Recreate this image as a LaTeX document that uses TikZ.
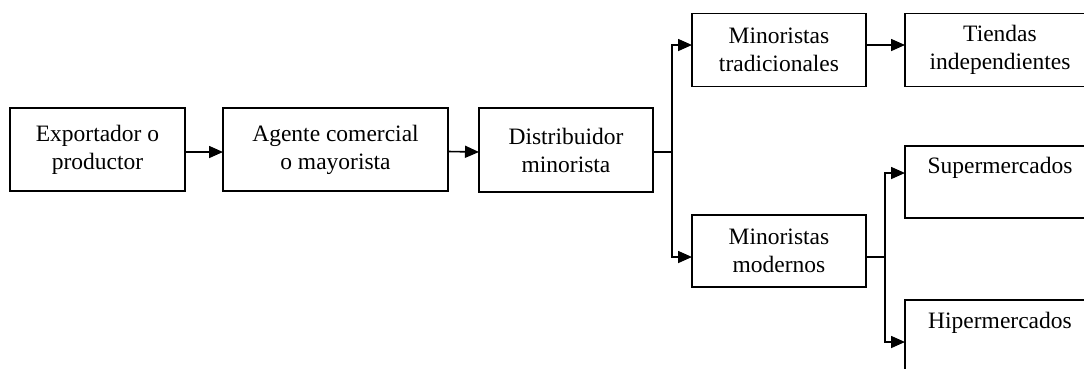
\documentclass[tikz,border=0pt]{standalone}
\usepackage{fontspec}
\setmainfont{Liberation Serif}
\usetikzlibrary{arrows.meta}
\begin{document}
\begin{tikzpicture}[x=1pt,y=-1pt,
  txt/.style={font=\fontsize{23.5}{28}\selectfont, align=center},
  box/.style={txt, draw, line width=1.6pt, inner sep=0pt, outer sep=0pt},
  wire/.style={line width=1.6pt},
  link/.style={wire, -{Triangle[length=14pt,width=12pt]}}]
\useasboundingbox (0,0) rectangle (1084,368);
\clip (0,0) rectangle (1084,368);

% main chain
\node[box, minimum width=175pt, minimum height=83pt] (b1) at (97.5,149.5) {Exportador o\\productor};
\node[box, minimum width=225pt, minimum height=83pt] (b2) at (335.5,149.5) {Agente comercial\\o mayorista};
\node[box, minimum width=174pt, minimum height=84pt] (b3) at (566,150) {Distribuidor\\minorista};

% retail branches
\node[box, minimum width=174pt, minimum height=73pt] (b4) at (779,50) {Minoristas\\tradicionales};
\node[box, minimum width=174pt, minimum height=72pt] (b7) at (779,251) {Minoristas\\modernos};

% store types
\node[box, minimum width=190pt, minimum height=73pt] (b5) at (1000,50) {Tiendas\\independientes};
\node[box, minimum width=190pt, minimum height=72pt,
  label={[txt, anchor=center, yshift=-22pt]north:Supermercados}] (sup) at (1000,182) {};
\node[box, minimum width=190pt, minimum height=72pt,
  label={[txt, anchor=center, yshift=-23pt]north:Hipermercados}] (hip) at (1000,336) {};

% connectors
\draw[link] ([yshift=-2.5pt]b1.east) -- ([yshift=-2.5pt]b2.west);
\draw[link] ([yshift=-2pt]b2.east) -- ([yshift=-2pt]b3.west);

\coordinate (j1) at (672,152);
\draw[wire] ([yshift=-2pt]b3.east) -- (j1);
\draw[link] (j1) |- ([yshift=5pt]b4.west);
\draw[link] (j1) |- ([yshift=-6pt]b7.west);

\draw[link] ([yshift=5pt]b4.east) -- ([yshift=5pt]b5.west);

\coordinate (j2) at (885,257);
\draw[wire] ([yshift=-6pt]b7.east) -- (j2);
\draw[link] (j2) |- ([yshift=9pt]sup.west);
\draw[link] (j2) |- ([yshift=-6pt]hip.west);
\end{tikzpicture}
\end{document}
